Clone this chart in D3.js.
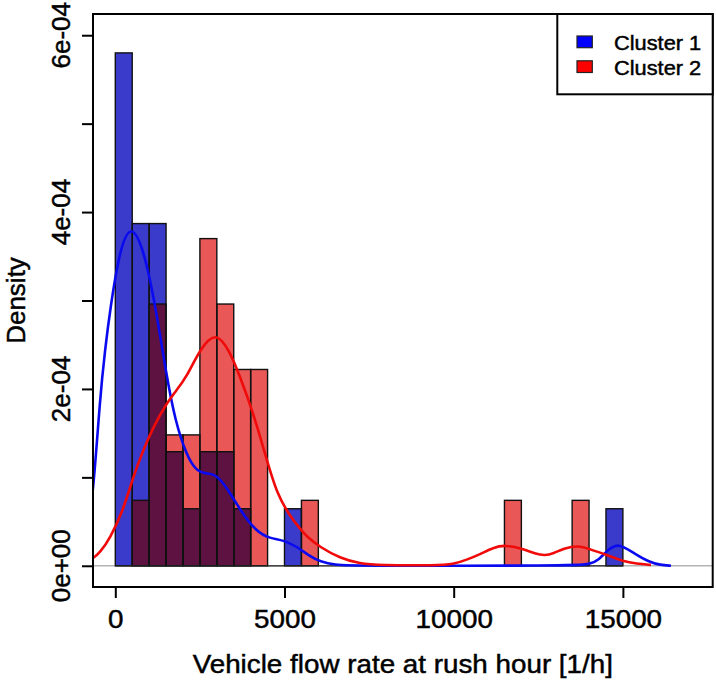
<!DOCTYPE html>
<html>
<head>
<meta charset="utf-8">
<script src="https://cdn.jsdelivr.net/npm/d3@7"></script>
<style>
  body { margin: 0; background: #fff; }
  text { font-family: "Liberation Sans", Arial, Helvetica, sans-serif; fill: #000; stroke: #000; stroke-width: 0.45px; }
</style>
</head>
<body>
<div id="graph"></div>
<script>
// histogram bins (start of each 500-wide bin) and density per bin
const binWidth = 500;
const cluster1Bins = [0, 500, 1000, 1500, 2000, 2500, 3000, 3500, 5000, 14500];
const cluster1Density = [5.80e-4, 3.87e-4, 3.87e-4, 1.29e-4, 6.45e-5, 1.29e-4, 1.29e-4, 6.45e-5, 6.45e-5, 6.45e-5];
const cluster2Bins = [500, 1000, 1500, 2000, 2500, 3000, 3500, 4000, 5500, 11500, 13500];
const cluster2Density = [7.4e-5, 2.96e-4, 1.48e-4, 1.48e-4, 3.70e-4, 2.96e-4, 2.22e-4, 2.22e-4, 7.4e-5, 7.4e-5, 7.4e-5];

// kernel density curves
const cluster1CurveX = [-1100, -900, -659, -452, -300, -157, 139, 464, 827, 1173, 1518, 1764, 2110, 2400, 2700, 2950, 3292, 3685, 4178, 4571, 4965, 5360, 5754, 6050, 6500, 7000, 13500, 14028, 14300, 14521, 14865, 15308, 15800, 16100, 16420];
const cluster1CurveY = [0.5e-5, 2.5e-5, 7.5e-5, 1.91e-4, 2.45e-4, 2.89e-4, 3.6e-4, 3.87e-4, 3.6e-4, 2.97e-4, 2.14e-4, 1.65e-4, 1.24e-4, 1.07e-4, 1.04e-4, 1.04e-4, 8.9e-5, 6.3e-5, 3.8e-5, 3.1e-5, 2.9e-5, 2.2e-5, 1.05e-5, 4.9e-6, 1e-6, 0, 0, 1.5e-6, 7e-6, 1.7e-5, 2.62e-5, 1.45e-5, 3.7e-6, 1e-6, 0];
const cluster2CurveX = [-900, -659, -452, -157, 236, 532, 827, 1123, 1518, 1800, 2100, 2503, 2976, 3390, 3685, 4078, 4474, 4769, 5163, 5458, 5656, 6050, 6640, 7231, 7800, 9500, 9980, 10385, 10777, 11170, 11516, 12057, 12403, 12700, 12950, 13239, 13700, 14028, 14521, 15012, 15400, 15830];
const cluster2CurveY = [4e-6, 8e-6, 1.5e-5, 3.1e-5, 6.3e-5, 1.01e-4, 1.31e-4, 1.57e-4, 1.84e-4, 1.98e-4, 2.13e-4, 2.45e-4, 2.66e-4, 2.42e-4, 2.14e-4, 1.73e-4, 1.20e-4, 8.2e-5, 5.6e-5, 4.2e-5, 3.3e-5, 2.1e-5, 8.7e-6, 2.3e-6, 0.5e-6, 0.5e-6, 1.5e-6, 6.8e-6, 1.3e-5, 2.05e-5, 2.38e-5, 1.9e-5, 1.35e-5, 1.15e-5, 1.4e-5, 1.95e-5, 2.32e-5, 1.85e-5, 1.24e-5, 5e-6, 2.5e-6, 1e-6];

const xTicks = [0, 5000, 10000, 15000];
const yTicks = [0, 1e-4, 2e-4, 3e-4, 4e-4, 5e-4, 6e-4];
const yLabelTicks = [0, 2e-4, 4e-4, 6e-4];
const yTickLabels = ["0e+00", "2e-04", "4e-04", "6e-04"];
const legendLabels = ["Cluster 1", "Cluster 2"];

const w = 716, h = 680;
const margin = { top: 14, right: 3.3, bottom: 93, left: 93 };
const innerWidth = w - margin.left - margin.right;
const innerHeight = h - margin.top - margin.bottom;
const stretch = 1.09;

const blueFill = "#3b3bcb", redFill = "#ea5757", darkFill = "#5e1241";

const svg = d3.select("#graph").append("svg")
    .attr("width", w)
    .attr("height", h);

const xScale = d3.scaleLinear().domain([-659, 17654]).range([0, innerWidth]);
const yScale = d3.scaleLinear().domain([-2.4e-5, 6.24e-4]).range([innerHeight, 0]);

const g = svg.append("g").attr("transform", `translate(${margin.left},${margin.top})`);

svg.append("defs").append("clipPath").attr("id", "plotclip")
    .append("rect").attr("width", innerWidth).attr("height", innerHeight);

const plot = g.append("g").attr("clip-path", "url(#plotclip)");

// grey zero line
plot.append("line")
    .attr("x1", 0).attr("x2", innerWidth)
    .attr("y1", yScale(0)).attr("y2", yScale(0))
    .attr("stroke", "#b4b4b4").attr("stroke-width", 1.5);

const c1 = cluster1Bins.map((b, i) => ({ x: b, d: cluster1Density[i] }));
const c2 = cluster2Bins.map((b, i) => ({ x: b, d: cluster2Density[i] }));

function bars(data, fill) {
    plot.append("g").selectAll("rect")
        .data(data).enter().append("rect")
        .attr("x", d => xScale(d.x))
        .attr("y", d => yScale(d.d))
        .attr("width", xScale(binWidth) - xScale(0))
        .attr("height", d => yScale(0) - yScale(d.d))
        .attr("fill", fill);
}
bars(c1, blueFill);
bars(c2, redFill);

// overlap of both histograms
const overlap = c1.filter(a => cluster2Bins.includes(a.x))
    .map(a => ({ x: a.x, d: Math.min(a.d, cluster2Density[cluster2Bins.indexOf(a.x)]) }));
bars(overlap, darkFill);

// bar outlines
plot.append("g").selectAll("rect")
    .data(c1.concat(c2)).enter().append("rect")
    .attr("x", d => xScale(d.x))
    .attr("y", d => yScale(d.d))
    .attr("width", xScale(binWidth) - xScale(0))
    .attr("height", d => yScale(0) - yScale(d.d))
    .attr("fill", "none")
    .attr("stroke", "#111")
    .attr("stroke-width", 1.4);

plot.append("line")
    .attr("x1", xScale(0)).attr("x2", xScale(15000))
    .attr("y1", yScale(0)).attr("y2", yScale(0))
    .attr("stroke", "#222").attr("stroke-width", 1.2);

const lineGenerator = d3.line()
    .x(d => xScale(d[0]))
    .y(d => yScale(Math.max(0, d[1])))
    .curve(d3.curveBasis);

plot.append("path")
    .attr("d", lineGenerator(cluster1CurveX.map((x, i) => [x, cluster1CurveY[i]])))
    .attr("fill", "none").attr("stroke", "#0a0af0").attr("stroke-width", 2.6);
plot.append("path")
    .attr("d", lineGenerator(cluster2CurveX.map((x, i) => [x, cluster2CurveY[i]])))
    .attr("fill", "none").attr("stroke", "#f00a0a").attr("stroke-width", 2.6);

// widen horizontal text a little, like the original rendering
function widen(sel) {
    sel.each(function () {
        const len = this.getComputedTextLength();
        d3.select(this).attr("textLength", len * stretch).attr("lengthAdjust", "spacingAndGlyphs");
    });
}

// axes
const xAxisG = g.append("g")
    .attr("transform", `translate(0,${innerHeight})`)
    .call(d3.axisBottom(xScale).tickValues(xTicks).tickSize(11).tickFormat(d3.format("d")));
xAxisG.select(".domain").remove();
xAxisG.selectAll("line").attr("stroke", "#000").attr("stroke-width", 2);
xAxisG.selectAll("text")
    .attr("y", 41).attr("dy", null)
    .style("font-size", "25.5px")
    .call(widen);

const yAxisG = g.append("g")
    .call(d3.axisLeft(yScale).tickValues(yTicks).tickSize(11).tickFormat(""));
yAxisG.select(".domain").remove();
yAxisG.selectAll("line").attr("stroke", "#000").attr("stroke-width", 2);
yAxisG.selectAll("text").remove();

g.append("g").selectAll("text")
    .data(yLabelTicks).enter().append("text")
    .attr("text-anchor", "middle")
    .attr("transform", d => `translate(-23,${yScale(d)}) rotate(-90)`)
    .style("font-size", "26px")
    .text((d, i) => yTickLabels[i]);

// frame
g.append("rect")
    .attr("width", innerWidth).attr("height", innerHeight)
    .attr("fill", "none").attr("stroke", "#000").attr("stroke-width", 2);

svg.append("text")
    .attr("text-anchor", "middle")
    .attr("x", margin.left + innerWidth / 2).attr("y", 673)
    .style("font-size", "25.5px")
    .text("Vehicle flow rate at rush hour [1/h]")
    .call(widen);

svg.append("text")
    .attr("text-anchor", "middle")
    .attr("transform", `translate(25,${margin.top + innerHeight / 2}) rotate(-90)`)
    .style("font-size", "26px")
    .text("Density");

// legend
const legend = svg.append("g");
legend.append("rect")
    .attr("x", 557.3).attr("y", margin.top)
    .attr("width", w - margin.right - 557.3).attr("height", 80.3)
    .attr("fill", "#fff").attr("stroke", "#000").attr("stroke-width", 2);
const legendColors = ["#0000ff", "#ff0000"];
legendLabels.forEach((label, i) => {
    legend.append("rect")
        .attr("x", 577).attr("y", 36 + i * 24.8)
        .attr("width", 15.3).attr("height", 11.7)
        .attr("fill", legendColors[i]).attr("stroke", "#222").attr("stroke-width", 1.2);
    legend.append("text")
        .attr("x", 614).attr("y", 50 + i * 24.8)
        .style("font-size", "20px")
        .text(label)
        .call(widen);
});
</script>
</body>
</html>
